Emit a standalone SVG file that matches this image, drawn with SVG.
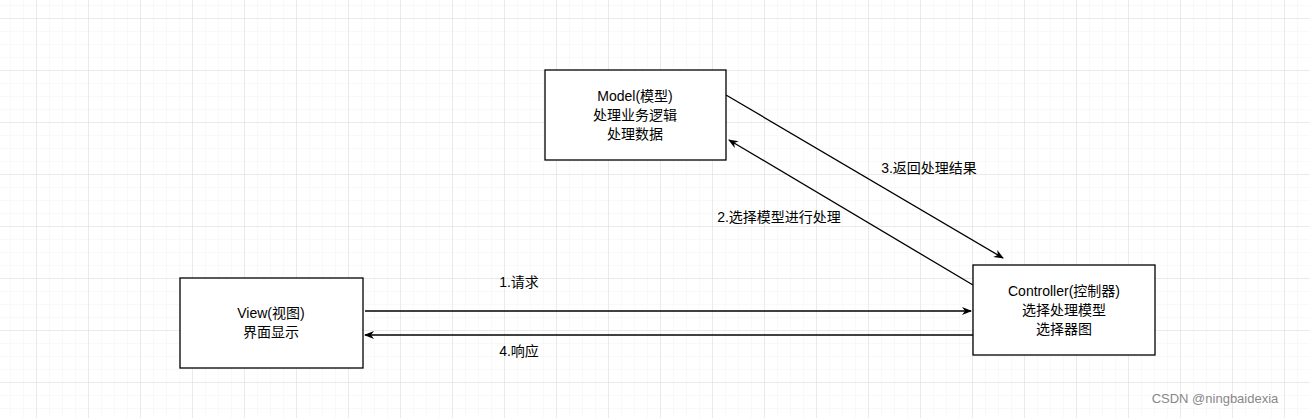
<svg xmlns="http://www.w3.org/2000/svg" width="1310" height="418" viewBox="0 0 1310 418">
<defs>
<pattern id="minor" x="10" y="5" width="13" height="13" patternUnits="userSpaceOnUse"><path d="M0 0V13M0 0H13" fill="none" stroke="#f3f3f3" stroke-width="1"/></pattern>
<pattern id="major" x="36" y="18" width="52" height="52" patternUnits="userSpaceOnUse"><path d="M0 0V52M0 0H52" fill="none" stroke="#dcdcdc" stroke-width="1"/></pattern>
<marker id="ar" viewBox="0 0 10 10" refX="9" refY="5" markerWidth="10" markerHeight="10" markerUnits="userSpaceOnUse" orient="auto"><path d="M0 1L10 5L0 9L3 5z" fill="#000"/></marker>
</defs>
<style>
.n{fill:#fff;stroke:#000;stroke-width:1.3}
text{font-family:"Liberation Sans","Noto Sans CJK SC",sans-serif;font-size:14px;fill:#000;text-anchor:middle}
.l{font-size:14px}
.c{fill:none;stroke:#000;stroke-width:1.3;marker-end:url(#ar)}
</style>
<rect width="1310" height="418" fill="#fff"/>
<rect width="1310" height="418" fill="url(#minor)"/>
<rect width="1310" height="418" fill="url(#major)"/>
<g id="connectors">
<path class="c" d="M365 311H971"/>
<path class="c" d="M973 335H365"/>
<path class="c" d="M726 95L1003 258"/>
<path class="c" d="M973 285L729 140"/>
<text x="519" y="287">1.请求</text>
<text x="519" y="356">4.响应</text>
<text x="929" y="173">3.返回处理结果</text>
<text x="779" y="222">2.选择模型进行处理</text>
</g>
<g id="model"><rect class="n" x="545" y="70" width="181" height="90"/>
<text x="635" y="101">Model(模型)</text><text x="635" y="120">处理业务逻辑</text><text x="635" y="139">处理数据</text></g>
<g id="view"><rect class="n" x="180" y="278" width="183" height="90"/>
<text x="271" y="318">View(视图)</text><text x="271" y="337">界面显示</text></g>
<g id="controller"><rect class="n" x="973" y="265" width="182" height="90"/>
<text x="1064" y="296">Controller(控制器)</text><text x="1064" y="315">选择处理模型</text><text x="1064" y="334">选择器图</text></g>
<text x="1215" y="403" style="font-size:13px;fill:#888">CSDN @ningbaidexia</text>
</svg>
